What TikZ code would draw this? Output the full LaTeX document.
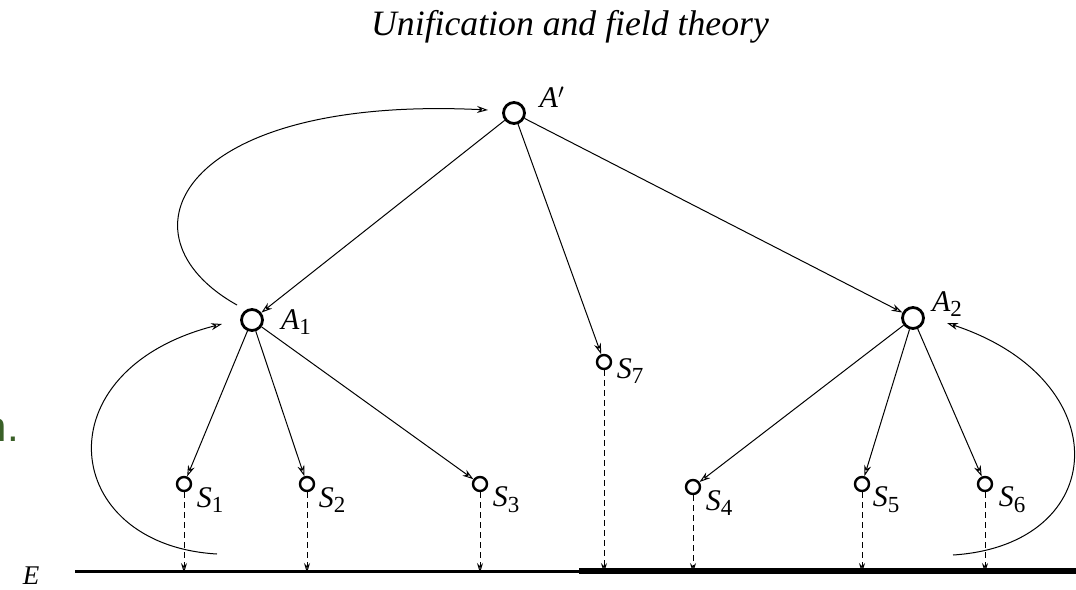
\documentclass[tikz,border=0pt]{standalone}
\usepackage{fontspec}
\setmainfont{Liberation Serif}
\newfontfamily\sansgreen{Liberation Sans}
\usetikzlibrary{arrows.meta}
\definecolor{pagegreen}{RGB}{58,96,40}
\newcommand\lab[2]{\textit{#1}\raisebox{-0.42ex}{\fontsize{23}{23}\selectfont #2}}
\begin{document}
\begin{tikzpicture}[x=1pt,y=-1pt,
  big/.style={circle,draw,line width=2.8pt,minimum size=21pt,inner sep=0pt},
  small/.style={circle,draw,line width=2.4pt,minimum size=14pt,inner sep=0pt},
  lbl/.style={font=\fontsize{30}{30}\selectfont,inner sep=0pt},
  conn/.style={line width=1pt,-{Stealth[length=11pt,width=7pt,open]}},
  drop/.style={line width=1pt,dash pattern=on 6pt off 4pt,-{Stealth[length=10pt,width=6pt,open]}}]
\useasboundingbox (0,0) rectangle (1076,589);
\fill[white] (0,0) rectangle (1076,589);
% title
\node[font=\fontsize{35.7}{36}\selectfont\itshape] (title) at (570,27) {Unification and field theory};
% stray text cut off at the left edge
\node[font=\sansgreen\fontsize{42}{42}\selectfont,text=pagegreen,anchor=base east,inner sep=0pt] (stray) at (19,441) {n.};
% nodes
\node[big] (Ap) at (514,113) {};
\node[big] (A1) at (252,320) {};
\node[big] (A2) at (913,318) {};
\node[small] (S7) at (604,362) {};
\node[small] (S1) at (184,484) {};
\node[small] (S2) at (307,484) {};
\node[small] (S3) at (480,484) {};
\node[small] (S4) at (693,487) {};
\node[small] (S5) at (862,484) {};
\node[small] (S6) at (985,484) {};
% labels
\node[lbl] (lAp) at (552,97) {\textit{A}$'$};
\node[lbl] (lA1) at (296,322) {\lab{A}{1}};
\node[lbl] (lA2) at (947,304) {\lab{A}{2}};
\node[lbl] (lS7) at (630,371) {\lab{S}{7}};
\node[lbl] (lS1) at (210,500) {\lab{S}{1}};
\node[lbl] (lS2) at (332,500) {\lab{S}{2}};
\node[lbl] (lS3) at (506,500) {\lab{S}{3}};
\node[lbl] (lS4) at (719,503) {\lab{S}{4}};
\node[lbl] (lS5) at (886,500) {\lab{S}{5}};
\node[lbl] (lS6) at (1012,500) {\lab{S}{6}};
\node[font=\fontsize{27}{27}\selectfont,inner sep=0pt] (lE) at (31,576) {\textit{E}};
% ground line
\coordinate (E0) at (75,571);
\coordinate (Em) at (579,571);
\coordinate (E1) at (1076,571);
\draw[line width=3pt] (E0) -- (Em);
\draw[line width=5.5pt] (Em) -- (E1);
% tree edges
\draw[conn] (Ap) -- (A1);
\draw[conn] (Ap) -- (S7);
\draw[conn] (Ap) -- (A2);
\draw[conn] (A1) -- (S1);
\draw[conn] (A1) -- (S2);
\draw[conn] (A1) -- (S3);
\draw[conn] (A2) -- (S4);
\draw[conn] (A2) -- (S5);
\draw[conn] (A2) -- (S6);
% drops
\foreach \s in {S1,S2,S3,S4,S5,S6,S7}{
  \coordinate (g\s) at (\s |- Em);
  \draw[drop] (\s) -- ([yshift=-2pt]g\s);
}
% feedback curves
\coordinate (T0) at (237,305);
\coordinate (T1) at (488,110);
\draw[conn] (T0) .. controls (112,235) and (180,95) .. (T1);
\coordinate (L0) at (217,554);
\coordinate (L1) at (222,324);
\draw[conn] (L0) .. controls (60,545) and (40,370) .. (L1);
\coordinate (R0) at (953,555);
\coordinate (R1) at (947,323);
\draw[conn] (R0) .. controls (1110,545) and (1120,380) .. (R1);
\end{tikzpicture}
\end{document}
